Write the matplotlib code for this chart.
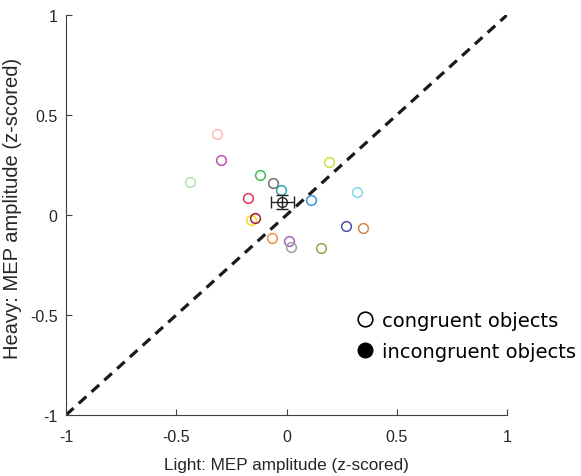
import matplotlib
matplotlib.use("Agg")
import matplotlib.pyplot as plt
from matplotlib.lines import Line2D

light = [-0.314, -0.297, -0.438, -0.119, -0.061, -0.025, -0.173, 0.110, 0.194, 0.321,
         -0.161, -0.143, 0.271, 0.348, -0.064, 0.011, 0.019, 0.155]
heavy = [0.405, 0.273, 0.167, 0.198, 0.160, 0.127, 0.085, 0.077, 0.265, 0.115,
         -0.023, -0.017, -0.057, -0.065, -0.115, -0.130, -0.158, -0.163]
colors = ['#ffb8b8', '#c050b0', '#b0e0b0', '#40c050', '#707070', '#30a8b0', '#e8305a',
          '#3a90d8', '#d0e040', '#80d8e8', '#f0e020', '#a02030', '#5050a0', '#d08850',
          '#f09040', '#a060c0', '#a0a0a0', '#a0a050']
mean_x, mean_y = -0.019, 0.063
err_x, err_y = 0.052, 0.035
ticks = [-1, -0.5, 0, 0.5, 1]
tick_labels = ['-1', '-0.5', '0', '0.5', '1']

plt.rcParams['font.family'] = ['Liberation Sans', 'DejaVu Sans']
fig = plt.figure(figsize=(5.81, 4.77), dpi=100)
ax = fig.add_axes([66/581, 61/477, 441/581, 400/477])

ax.plot([-1, 1], [-1, 1], color='#1a1a1a', lw=2.3, dashes=(3.2, 2.2), zorder=1)
for x, y, c in zip(light, heavy, colors):
    ax.plot(x, y, 'o', ms=7, mfc='none', mec=c, mew=1.1, zorder=2)
ax.errorbar(mean_x, mean_y, xerr=err_x, yerr=err_y, fmt='o', ms=7, mfc='none',
            mec='#222222', ecolor='#222222', elinewidth=1.0, capsize=4, capthick=1.0,
            mew=1.0, zorder=3)

ax.set_xlim(-1, 1)
ax.set_ylim(-1, 1)
ax.set_xticks(ticks)
ax.set_xticklabels(tick_labels)
ax.set_yticks(ticks)
ax.set_yticklabels(tick_labels)
for s in ['top', 'right']:
    ax.spines[s].set_visible(False)
for s in ['left', 'bottom']:
    ax.spines[s].set_color('#404040')
    ax.spines[s].set_linewidth(0.8)
ax.tick_params(direction='in', length=4, width=0.8, color='#404040', labelsize=11.5,
               labelcolor='#262626')
ax.tick_params(axis='x', pad=10)
ax.tick_params(axis='y', pad=6)
ax.set_xlabel('Light: MEP amplitude (z-scored)', fontsize=12.3, color='#262626')
ax.xaxis.set_label_coords(0.5, -50/400, transform=ax.transAxes)
ax.set_ylabel('Heavy: MEP amplitude (z-scored)', fontsize=14.5, color='#262626')
ax.yaxis.set_label_coords(-53/441, (416-208)/400, transform=ax.transAxes)
ax.xaxis.label.set_va('center')
ax.yaxis.label.set_va('center')

handles = [Line2D([], [], ls='none', marker='o', ms=10.5, mfc='none', mec='black', mew=1.2),
           Line2D([], [], ls='none', marker='o', ms=10.5, mfc='black', mec='black')]
leg = fig.legend(handles, ['congruent objects', 'incongruent objects'], frameon=False,
                 loc='upper left', bbox_to_anchor=(355/581, 1 - 312/477),
                 prop={'family': 'DejaVu Sans', 'size': 14}, handletextpad=0.38,
                 labelspacing=0.63, borderpad=0, handlelength=1.0, borderaxespad=0)
fig.savefig('out.png', dpi=100)
